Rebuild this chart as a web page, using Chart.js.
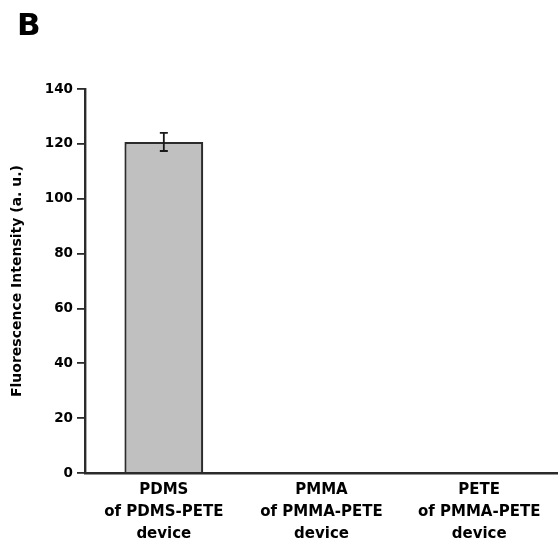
<!DOCTYPE html>
<html lang="en">
<head>
  <meta charset="UTF-8" />
  <title>Fluorescence Intensity</title>
  <script src="https://cdn.jsdelivr.net/npm/chart.js"></script>
  <style>
    body {
      margin: 0;
      padding: 0;
      background: #fff;
    }
    .wrap {
      width: 558px;
      height: 545px;
      position: relative;
    }
  </style>
</head>
<body>
  <div class="wrap">
    <canvas id="chart"></canvas>
  </div>

  <script>
    const categories = [
      ['PDMS', 'of PDMS-PETE', 'device'],
      ['PMMA', 'of PMMA-PETE', 'device'],
      ['PETE', 'of PMMA-PETE', 'device']
    ];
    const intensity = [120.7, 0, 0];
    const errors = [3.3, 0, 0];
    const yTicks = [0, 20, 40, 60, 80, 100, 120, 140];

    const axisColor = '#2b2b2b';
    const fontFamily = "'DejaVu Sans', sans-serif";

    // error bars + panel letter
    const extras = {
      id: 'extras',
      afterDatasetsDraw(chart) {
        const ctx = chart.ctx;
        const y = chart.scales.y;
        const meta = chart.getDatasetMeta(0);
        ctx.save();
        ctx.strokeStyle = '#1a1a1a';
        ctx.lineWidth = 1.8;
        meta.data.forEach((bar, i) => {
          if (!errors[i]) return;
          const top = y.getPixelForValue(intensity[i] + errors[i]);
          const bot = y.getPixelForValue(intensity[i] - errors[i]);
          ctx.beginPath();
          ctx.moveTo(bar.x, top);
          ctx.lineTo(bar.x, bot);
          ctx.moveTo(bar.x - 4, top);
          ctx.lineTo(bar.x + 4, top);
          ctx.moveTo(bar.x - 4, bot);
          ctx.lineTo(bar.x + 4, bot);
          ctx.stroke();
        });
        ctx.restore();
      },
      afterDraw(chart) {
        const ctx = chart.ctx;
        ctx.save();
        ctx.fillStyle = '#000';
        ctx.font = "bold 31px " + fontFamily;
        ctx.textBaseline = 'alphabetic';
        ctx.fillText('B', 17, 35);
        ctx.restore();
      }
    };

    new Chart(document.getElementById('chart'), {
      type: 'bar',
      data: {
        labels: categories,
        datasets: [{
          data: intensity,
          backgroundColor: '#c0c0c0',
          borderColor: axisColor,
          borderWidth: 2.2,
          categoryPercentage: 0.5,
          barPercentage: 1
        }]
      },
      options: {
        responsive: true,
        maintainAspectRatio: false,
        animation: false,
        layout: { padding: { top: 89, right: 0, left: 0, bottom: 0 } },
        plugins: {
          legend: { display: false },
          tooltip: { enabled: false }
        },
        scales: {
          x: {
            grid: { display: false, drawTicks: false },
            border: { display: true, color: axisColor, width: 2.4 },
            ticks: {
              color: '#000',
              padding: 6,
              maxRotation: 0,
              autoSkip: false,
              font: { family: fontFamily, size: 15, weight: 'bold', lineHeight: 1.47 }
            },
            afterFit: scale => { scale.height = 72; }
          },
          y: {
            min: 0,
            max: 140,
            afterBuildTicks: scale => { scale.ticks = yTicks.map(v => ({ value: v })); },
            grid: { drawOnChartArea: false, drawTicks: true, tickLength: 8, color: axisColor, lineWidth: 1.8 },
            border: { display: true, color: axisColor, width: 2.4 },
            ticks: {
              color: '#000',
              padding: 4,
              font: { family: fontFamily, size: 13.5, weight: 'bold' }
            },
            title: {
              display: true,
              text: 'Fluorescence Intensity (a. u.)',
              color: '#000',
              padding: { top: 9, bottom: 0 },
              font: { family: fontFamily, size: 14, weight: 'bold' }
            },
            afterFit: scale => { scale.width = 85; }
          }
        }
      },
      plugins: [extras]
    });
  </script>
</body>
</html>
